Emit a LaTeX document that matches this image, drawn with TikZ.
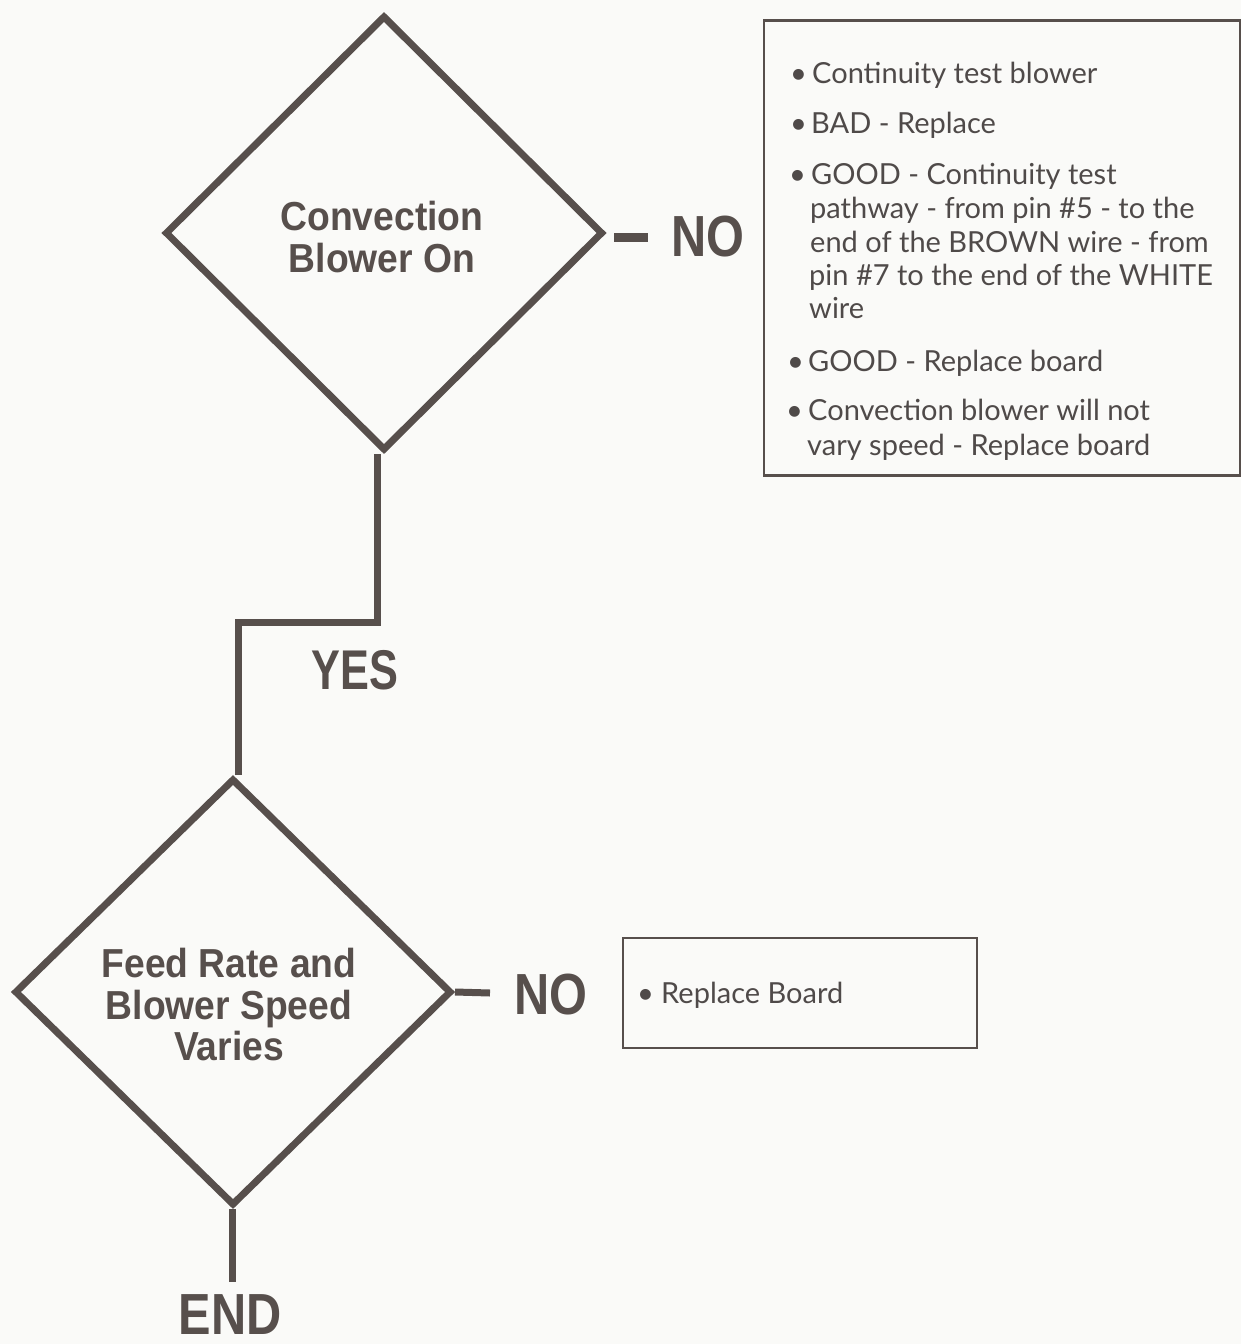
\documentclass[tikz,border=0pt]{standalone}
\usepackage{fontspec}
\setmainfont{Lato}
\newfontfamily\condfont[FakeStretch=0.92]{Liberation Sans}
\newfontfamily\bigfont[FakeStretch=0.84]{Liberation Sans}
\usetikzlibrary{shapes.geometric}
\definecolor{ink}{HTML}{574F4C}
\definecolor{boxtext}{HTML}{4F4A49}
\definecolor{paper}{HTML}{FAFAF8}
\tikzset{
  x=1pt,y=1pt,
  decision/.style={shape=diamond,draw=ink,line width=7pt,miter limit=20,inner sep=0pt},
  flow/.style={draw=ink,line width=7pt,line join=miter},
  dlabel/.style={text=ink,align=center,inner sep=0pt,font=\condfont\bfseries\fontsize{40.5}{41.5}\selectfont},
  biglabel/.style={text=ink,inner sep=0pt,font=\bigfont\bfseries\fontsize{58}{60}\selectfont},
  infobox/.style={draw=ink,line width=2.4pt},
  itemline/.style={text=boxtext,anchor=base west,inner sep=0pt,font=\fontsize{29}{33}\selectfont},
  bul/.style={text=boxtext,anchor=base west,inner sep=0pt,font=\fontsize{29}{33}\selectfont},
}
\begin{document}
\begin{tikzpicture}
\fill[paper] (0,0) rectangle (1241,-1344);
\useasboundingbox (0,0) rectangle (1241,-1344);

% decisions
\node[decision,minimum width=438pt,minimum height=435pt] (d1) at (384,-233) {};
\node[dlabel] (t1) at (382,-237) {Convection\\Blower On};

\node[decision,minimum width=437pt,minimum height=427pt] (d2) at (233,-992) {};
\node[dlabel] (t2) at (229,-1005) {Feed Rate and\\Blower Speed\\Varies};

% yes connector
\coordinate (k1) at (376,-622);
\coordinate (k2) at (238,-622);
\draw[flow] (d1.south) ++(-7,0) coordinate (s1) -- (s1 |- k1) -- (k2) -- (k2 |- d2.north);
\node[biglabel,font=\bigfont\bfseries\fontsize{56}{60}\selectfont,xscale=0.92] (yes) at (355,-670) {YES};

% end
\coordinate (e1) at (232,-1282);
\draw[flow] (d2.south) ++(-1,0) coordinate (s2) -- (s2 |- e1);
\node[biglabel] (endl) at (230,-1315) {END};

% NO 1
\coordinate (n1a) at (614,-237);
\coordinate (n1b) at (648,-237);
\draw[draw=ink,line width=9pt] (n1a) -- (n1b);
\node[biglabel] (no1) at (708,-237) {NO};

% NO 2
\coordinate (n2b) at (490,-993);
\draw[flow] (d2.east) -- (n2b);
\node[biglabel] (no2) at (551,-995) {NO};

% box 1
\node[infobox,minimum width=476pt,minimum height=455pt,inner sep=0pt] (box1) at (1002,-248) {};
\node[bul] (u1) at (790,-83) {•};
\node[itemline] (l1) at (812,-83) {Continuity test blower};
\node[bul] (u2) at (790,-133) {•};
\node[itemline] (l2) at (811,-133) {BAD - Replace};
\node[bul] (u3) at (789,-184) {•};
\node[itemline] (l3) at (811,-184) {GOOD - Continuity test};
\node[itemline] (l4) at (810,-218) {pathway - from pin \#5 - to the};
\node[itemline] (l5) at (810,-252) {end of the BROWN wire - from};
\node[itemline] (l6) at (809,-285) {pin \#7 to the end of the WHITE};
\node[itemline] (l7) at (809,-318) {wire};
\node[bul] (u4) at (787,-371) {•};
\node[itemline] (l8) at (808,-371) {GOOD - Replace board};
\node[bul] (u5) at (786,-420) {•};
\node[itemline] (l9) at (808,-420) {Convection blower will not};
\node[itemline] (l10) at (807,-455) {vary speed - Replace board};

% box 2
\node[infobox,minimum width=354pt,minimum height=110pt,inner sep=0pt] (box2) at (800,-993) {};
\node[bul] (u6) at (637,-1003) {•};
\node[itemline] (l11) at (661,-1003) {Replace Board};
\end{tikzpicture}
\end{document}
